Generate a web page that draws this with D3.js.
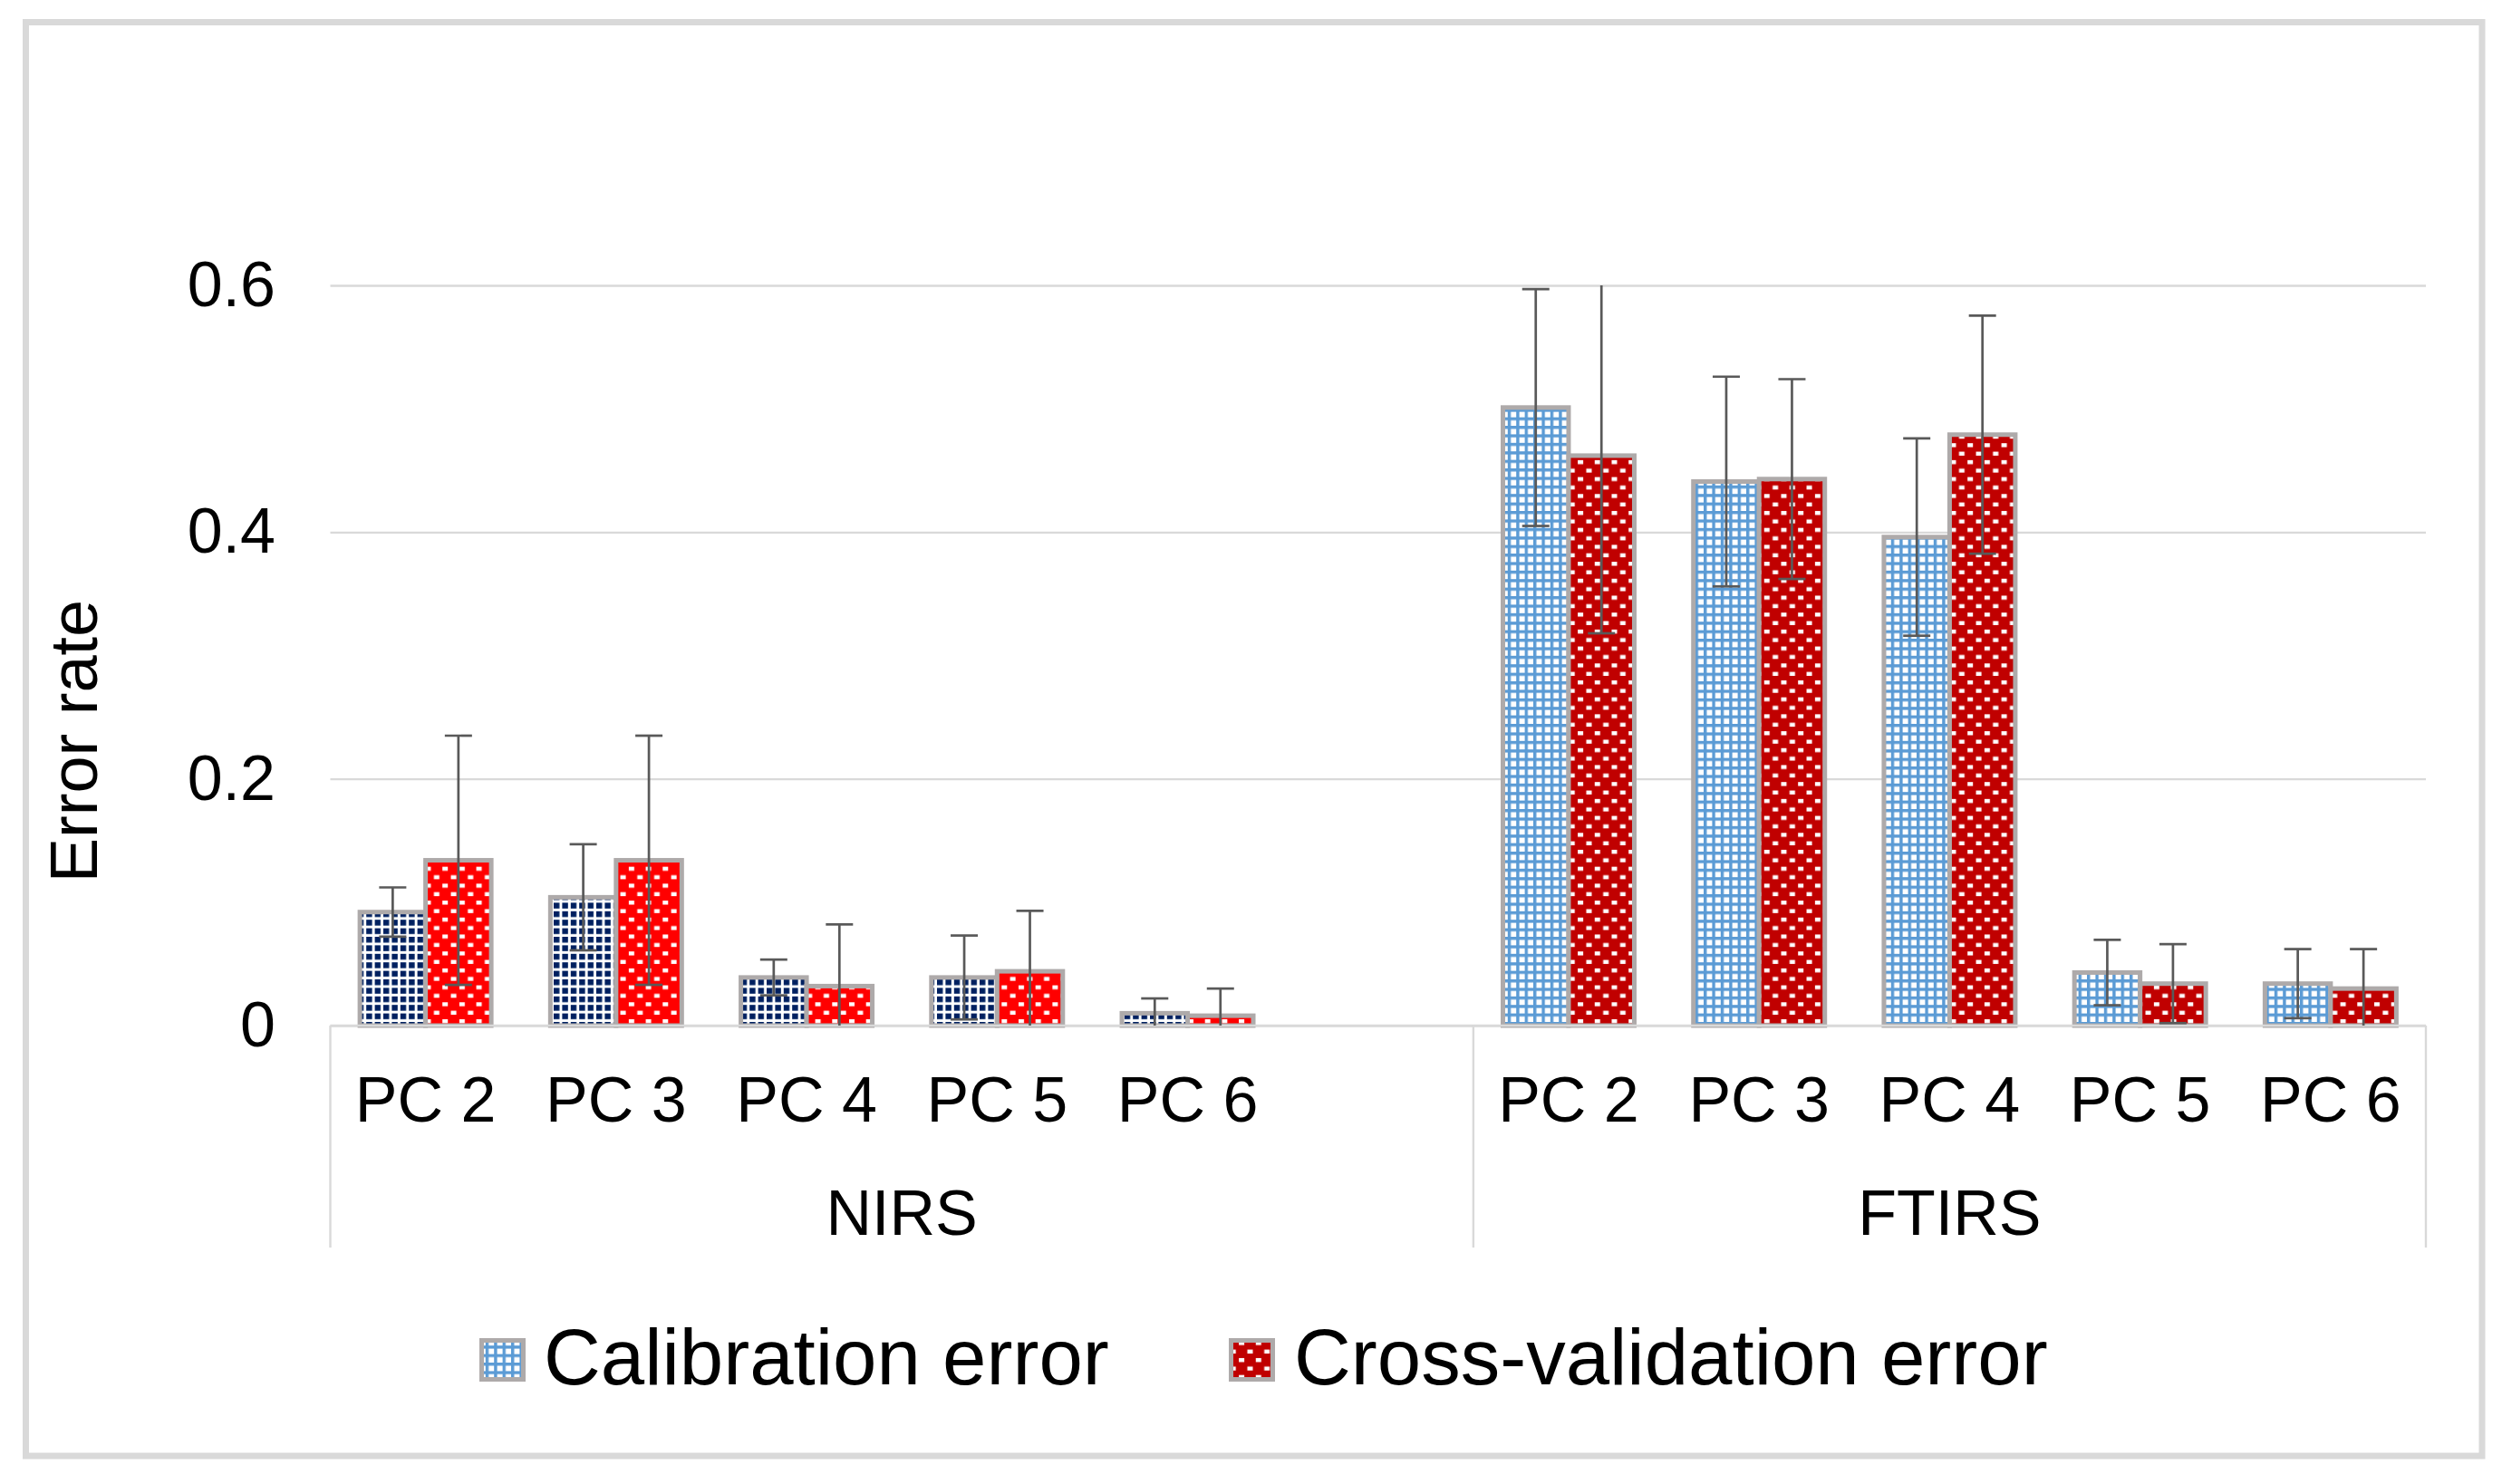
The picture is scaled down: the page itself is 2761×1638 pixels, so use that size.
<!DOCTYPE html>
<html>
<head>
<meta charset="utf-8">
<script src="https://cdn.jsdelivr.net/npm/d3@7"></script>
<style>
  html, body { margin: 0; padding: 0; background: #fff; }
  svg { display: block; }
  text { font-family: "Liberation Sans", Arial, sans-serif; fill: #000; }
</style>
</head>
<body>
<script>
// ---------------- DATA ----------------
const groups = ["NIRS", "FTIRS"];
const nirsLabels = ["PC 2", "PC 3", "PC 4", "PC 5", "PC 6", ""];   // last slot is empty in the original
const ftirsLabels = ["PC 2", "PC 3", "PC 4", "PC 5", "PC 6"];
const seriesNames = ["Calibration error", "Cross-validation error"];

const calNIRS     = [0.092, 0.104, 0.039, 0.039, 0.010];
const calNIRSErr  = [0.020, 0.043, 0.0145, 0.034, 0.012];
const cvNIRS      = [0.134, 0.134, 0.032, 0.044, 0.008];
const cvNIRSErr   = [0.101, 0.101, 0.050, 0.049, 0.022];

const calFTIRS    = [0.501, 0.441, 0.396, 0.043, 0.034];
const calFTIRSErr = [0.096, 0.085, 0.080, 0.0265, 0.028];
const cvFTIRS     = [0.462, 0.443, 0.479, 0.034, 0.030];
const cvFTIRSErr  = [0.144, 0.081, 0.0965, 0.032, 0.032];

const yTicks = [0, 0.2, 0.4, 0.6];
const yTickLabels = ["0", "0.2", "0.4", "0.6"];

// ---------------- LAYOUT ----------------
const W = 2761, H = 1638;
const plotL = 364.5, plotR = 2677, plotT = 315, plotB = 1132;

const svg = d3.select("body").append("svg").attr("width", W).attr("height", H);

// Patterns
const defs = svg.append("defs");
function gridPattern(id, color, period, sq, inverse) {
  const p = defs.append("pattern").attr("id", id).attr("patternUnits", "userSpaceOnUse")
    .attr("width", period).attr("height", period);
  if (!inverse) {
    p.append("rect").attr("width", period).attr("height", period).attr("fill", "#fff");
    p.append("rect").attr("width", sq).attr("height", sq).attr("fill", color);
  } else {
    p.append("rect").attr("width", period).attr("height", period).attr("fill", color);
    p.append("rect").attr("x", period - sq).attr("y", period - sq).attr("width", sq).attr("height", sq).attr("fill", "#fff");
  }
}
function dotPattern(id, color) {
  const s = 18.7;
  const p = defs.append("pattern").attr("id", id).attr("patternUnits", "userSpaceOnUse")
    .attr("width", s).attr("height", s);
  p.append("rect").attr("width", s).attr("height", s).attr("fill", color);
  p.append("rect").attr("x", 2).attr("y", 3).attr("width", 6).attr("height", 4.4).attr("fill", "#fff");
  p.append("rect").attr("x", 2 + s / 2).attr("y", 3 + s / 2).attr("width", 6).attr("height", 4.4).attr("fill", "#fff");
}
gridPattern("calNIRS", "#002060", 9.4, 6.4, false);
gridPattern("calFTIRS", "#5b9bd5", 9.4, 6.0, true);
dotPattern("cvNIRS", "#ff0000");
dotPattern("cvFTIRS", "#c00000");

// Outer border
svg.append("rect").attr("x", 28.5).attr("y", 24.5).attr("width", 2739 - 28.5).attr("height", 1607 - 24.5)
  .attr("fill", "none").attr("stroke", "#d9d9d9").attr("stroke-width", 7);

// Scales
const slots = [
  ...nirsLabels.map((l, i) => ({ g: "NIRS", i, label: l, key: "NIRS|" + i })),
  ...ftirsLabels.map((l, i) => ({ g: "FTIRS", i, label: l, key: "FTIRS|" + i }))
];
const x = d3.scaleBand().domain(slots.map(d => d.key)).range([plotL, plotR]).paddingInner(0).paddingOuter(0);
const y = d3.scaleLinear().domain([0, 0.6]).range([plotB, plotT]);
const bw = x.bandwidth();
const barW = bw / 2.9;

// Gridlines + y tick labels
const yAxis = svg.append("g").attr("transform", `translate(${plotL},0)`)
  .call(d3.axisLeft(y).tickValues(yTicks).tickFormat((d, i) => yTickLabels[i])
    .tickSize(-(plotR - plotL)).tickPadding(60.5));
yAxis.select(".domain").remove();
yAxis.selectAll(".tick line").attr("stroke", "#d9d9d9").attr("stroke-width", 2.4);
yAxis.selectAll(".tick text").attr("font-size", 70).attr("fill", "#000")
  .style("font-family", "'Liberation Sans', Arial, sans-serif");

// Y title
svg.append("text").attr("transform", "translate(107,818) rotate(-90)")
  .attr("text-anchor", "middle").attr("font-size", 74).text("Error rate");

// Bars
const seriesByGroup = {
  NIRS:  { cal: calNIRS,  calErr: calNIRSErr,  cv: cvNIRS,  cvErr: cvNIRSErr },
  FTIRS: { cal: calFTIRS, calErr: calFTIRSErr, cv: cvFTIRS, cvErr: cvFTIRSErr }
};
const barData = [];
groups.forEach(g => {
  const s = seriesByGroup[g];
  s.cal.forEach((v, i) => {
    const key = g + "|" + i;
    const x0 = x(key) + (bw - 2 * barW) / 2;
    barData.push({ g, i, v, err: s.calErr[i], x0, fill: "url(#cal" + g + ")" });
    barData.push({ g, i, v: s.cv[i], err: s.cvErr[i], x0: x0 + barW, fill: "url(#cv" + g + ")" });
  });
});

svg.append("g").selectAll("rect").data(barData).join("rect")
  .attr("x", d => d.x0).attr("width", barW)
  .attr("y", d => y(d.v)).attr("height", d => y(0) - y(d.v))
  .attr("fill", d => d.fill).attr("stroke", "#aeaaaa").attr("stroke-width", 5);

// Category axis line
svg.append("line").attr("x1", plotL).attr("x2", plotR).attr("y1", plotB).attr("y2", plotB)
  .attr("stroke", "#d9d9d9").attr("stroke-width", 2.4);

// Error bars (clipped to plot area)
defs.append("clipPath").attr("id", "plotClip").append("rect")
  .attr("x", plotL).attr("y", plotT).attr("width", plotR - plotL).attr("height", plotB - plotT);
const eb = svg.append("g").attr("clip-path", "url(#plotClip)")
  .attr("stroke", "#595959").attr("stroke-width", 2.7).attr("fill", "none");
const capW = 30;
barData.forEach(d => {
  const cx = d.x0 + barW / 2;
  const yt = y(d.v + d.err), yb = y(Math.max(d.v - d.err, -0.05));
  eb.append("line").attr("x1", cx).attr("x2", cx).attr("y1", yt).attr("y2", yb);
  eb.append("line").attr("x1", cx - capW / 2).attr("x2", cx + capW / 2).attr("y1", yt).attr("y2", yt);
  eb.append("line").attr("x1", cx - capW / 2).attr("x2", cx + capW / 2).attr("y1", yb).attr("y2", yb);
});

// Category labels
const xAxis = svg.append("g").attr("transform", `translate(0,${plotB})`)
  .call(d3.axisBottom(x).tickFormat(k => slots.find(s => s.key === k).label).tickSize(0).tickPadding(56));
xAxis.select(".domain").remove();
xAxis.selectAll(".tick text").attr("font-size", 70).attr("fill", "#000")
  .style("font-family", "'Liberation Sans', Arial, sans-serif");

// Group separators and labels
const groupStarts = groups.map(g => x(g + "|0"));
const sepXs = [...groupStarts, plotR];
svg.append("g").selectAll("line").data(sepXs).join("line")
  .attr("x1", d => d).attr("x2", d => d).attr("y1", plotB).attr("y2", 1377)
  .attr("stroke", "#d9d9d9").attr("stroke-width", 2.4);
svg.append("g").selectAll("text").data(groups).join("text")
  .attr("x", (g, i) => (sepXs[i] + sepXs[i + 1]) / 2).attr("y", 1363)
  .attr("text-anchor", "middle").attr("font-size", 70).text(g => g);

// Legend
const legendItems = [
  { name: seriesNames[0], fill: "url(#calFTIRS)", mx: 531.5, tx: 600 },
  { name: seriesNames[1], fill: "url(#cvFTIRS)", mx: 1358.5, tx: 1428 }
];
const lg = svg.append("g");
legendItems.forEach(d => {
  lg.append("rect").attr("x", d.mx).attr("y", 1479.5).attr("width", 46).attr("height", 43)
    .attr("fill", d.fill).attr("stroke", "#aeaaaa").attr("stroke-width", 5);
  lg.append("text").attr("x", d.tx).attr("y", 1528).attr("font-size", 87).text(d.name);
});
</script>
</body>
</html>
